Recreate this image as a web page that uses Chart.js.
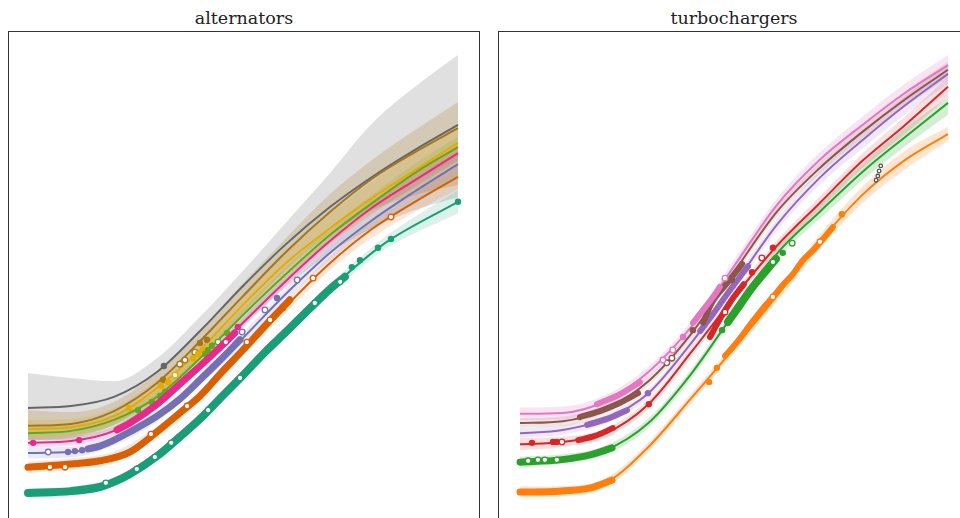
<!DOCTYPE html>
<html>
<head>
<meta charset="utf-8">
<title>alternators / turbochargers</title>
<script src="https://cdn.jsdelivr.net/npm/chart.js@4.4.1/dist/chart.umd.min.js"></script>
<style>
  html, body { margin: 0; padding: 0; background: #fff; overflow: hidden; }
  body { width: 960px; height: 518px; position: relative; }
  .frame { position: absolute; top: 31px; width: 470px; height: 540px; border: 1px solid #333; }
  .title { position: absolute; top: 8px; width: 472px; text-align: center; font-family: "DejaVu Serif", serif; font-size: 17.5px; line-height: 20px; color: #222; }
  canvas { position: absolute; left: 0; top: 0; }
</style>
</head>
<body>
<div class="title" style="left:8px">alternators</div>
<div class="frame" style="left:8px"></div>
<div class="title" style="left:498px">turbochargers</div>
<div class="frame" style="left:498px"></div>
<canvas id="altChart" width="960" height="518"></canvas>
<canvas id="turbChart" width="960" height="518"></canvas>
<script>
// shared sample positions of the fitted curves
const xSteps = [0, 10, 20, 30, 40, 50, 60, 70, 80, 90, 100];

// ---- alternators: fitted curves ----
const altGray   = [22.2, 22.6, 24.6, 30.0, 38.9, 48.7, 57.8, 65.7, 72.4, 78.3, 83.7];
const altBrown  = [18.3, 18.7, 21.5, 27.6, 36.7, 46.5, 56.1, 64.6, 72.0, 77.8, 83.0];
const altYellow = [17.6, 18.0, 20.4, 26.5, 34.8, 44.6, 53.7, 61.1, 67.8, 73.9, 79.8];
const altGreen  = [16.7, 17.2, 19.6, 24.6, 33.0, 42.4, 51.3, 59.6, 66.7, 73.3, 78.9];
const altPink   = [14.6, 15.0, 17.2, 23.3, 31.3, 40.7, 49.8, 58.3, 65.7, 71.7, 77.6];
const altPurple = [12.4, 12.6, 15.2, 20.4, 28.3, 37.4, 47.0, 55.7, 63.0, 69.3, 75.2];
const altOrange = [9.3, 10.0, 11.5, 17.0, 24.8, 34.8, 44.3, 53.5, 61.1, 67.0, 72.4];
const altTealX  = [0, 10, 20, 30, 40, 50, 60, 70, 80, 84.4, 100];
const altTeal   = [3.7, 4.1, 6.1, 11.7, 19.8, 29.3, 38.7, 47.8, 55.9, 58.9, 67.0];

// ---- alternators: intervals ----
const altGrayHi   = [29.8, 28.7, 28.0, 33.0, 42.0, 52.0, 62.5, 73.0, 84.0, 92.0, 98.9];
const altGrayLo   = [15.2, 15.2, 17.0, 22.2, 30.4, 40.0, 48.5, 55.7, 61.3, 65.2, 68.0];
const altBrownHi  = [21.7, 21.3, 23.5, 30.0, 39.1, 49.3, 59.1, 68.5, 76.1, 82.6, 88.7];
const altBrownLo  = [15.2, 15.7, 18.5, 24.3, 33.0, 42.8, 52.2, 59.8, 65.2, 68.5, 70.7];
const altYellowHi = [19.6, 19.8, 22.2, 28.3, 36.8, 47.0, 56.5, 64.3, 71.3, 77.7, 83.8];
const altYellowLo = [15.6, 16.2, 18.6, 24.7, 32.8, 42.2, 50.9, 57.9, 64.3, 70.1, 75.8];
const altGreenHi  = [17.9, 18.4, 20.8, 25.8, 34.3, 43.8, 52.8, 61.2, 68.5, 75.3, 81.2];
const altGreenLo  = [15.5, 16.0, 18.4, 23.4, 31.7, 41.0, 49.8, 58.0, 64.9, 71.3, 76.6];
const altPinkHi   = [15.6, 16.0, 18.2, 24.3, 32.3, 41.7, 50.8, 59.3, 66.9, 73.1, 79.3];
const altPinkLo   = [13.6, 14.0, 16.2, 22.3, 30.3, 39.7, 48.8, 57.3, 64.5, 70.3, 75.9];
const altPurpleHi = [13.6, 13.8, 16.4, 21.6, 29.5, 38.6, 48.3, 57.2, 64.8, 71.5, 77.8];
const altPurpleLo = [11.2, 11.4, 14.0, 19.2, 27.1, 36.2, 45.7, 54.2, 61.2, 67.1, 72.6];
const altOrangeHi = [10.5, 11.2, 12.7, 18.2, 26.0, 36.0, 45.6, 55.0, 63.0, 69.2, 75.0];
const altOrangeLo = [8.1, 8.8, 10.3, 15.8, 23.6, 33.6, 43.0, 52.0, 59.2, 64.8, 69.8];
const altTealHi   = [4.7, 5.1, 7.1, 12.7, 20.8, 30.3, 39.7, 48.9, 57.1, 60.3, 69.5];
const altTealLo   = [2.7, 3.1, 5.1, 10.7, 18.8, 28.3, 37.7, 46.7, 54.7, 57.5, 64.5];

// ---- alternators: observations (dense runs, filled, open) ----
const altTealRun = [[0, 3.7], [10, 4.1], [16.7, 5.0], [20, 6.1], [23.7, 7.8], [30, 11.7], [35.3, 15.9], [40, 19.8], [44.7, 24.3], [50, 29.3], [55.1, 34.3], [60, 38.7], [65.6, 43.9], [70.2, 48.0], [73.7, 50.7]];
const altTealDots = [[75.3, 52.8], [77.2, 54.3], [81.4, 57.0], [84.4, 58.9], [100, 67.0]];
const altTealOpen = [[18.1, 5.9], [25.3, 8.9], [29.5, 11.5], [33.3, 14.6], [41.9, 21.7], [49.3, 28.7], [66.7, 45.0], [72.6, 49.6]];
const altOrangeRun = [[0, 9.3], [10, 10.0], [16.7, 10.7], [23.7, 12.6], [30, 17.0], [35.3, 21.1], [40, 24.8], [44.7, 29.6], [50, 34.8], [55.1, 40.0], [60.9, 45.7]];
const altOrangeDots = [[59.3, 43.9]];
const altOrangeOpen = [[5.1, 9.3], [8.6, 9.3], [28.6, 16.5], [37.0, 22.6], [50.9, 36.5], [56.3, 41.3], [66.3, 50.4], [84.4, 63.7]];
const altPurpleRun = [[14.0, 13.3], [16.7, 13.9], [20, 15.2], [23.7, 17.0], [30, 20.4], [35.3, 24.1], [40, 28.3], [44.7, 32.6], [49.3, 37.0]];
const altPurpleDots = [[9.3, 12.6], [10.9, 12.8], [12.6, 13.0], [57.9, 46.1]];
const altPurpleOpen = [[4.7, 12.6], [49.8, 38.7], [55.1, 43.5], [62.6, 50.0]];
const altPinkRun = [[20.7, 17.4], [23.7, 18.9], [30, 23.0], [35.3, 27.4], [40, 31.3], [44.7, 35.4], [48.1, 38.5]];
const altPinkDots = [[1.2, 14.6], [11.9, 15.2], [48.8, 39.8]];
const altPinkOpen = [[46.0, 36.5]];
const altGreenDots = [[25.6, 21.7], [28.8, 23.5], [30.7, 24.8], [31.9, 25.7], [41.2, 33.9], [41.9, 34.8], [42.8, 35.7], [46.3, 38.5]];
const altGreenOpen = [[44.2, 36.5]];
const altYellowDots = [[23.5, 22.2], [30.9, 27.0], [32.6, 27.8], [38.4, 33.0], [39.5, 33.9], [40.7, 34.8]];
const altYellowOpen = [[34.2, 29.3]];
const altBrownDots = [[31.4, 28.3], [40.0, 36.3], [41.6, 37.0]];
const altBrownOpen = [[35.3, 31.7], [36.5, 32.6], [38.8, 34.3]];
const altGrayDots = [[31.6, 31.3]];

// ---- turbochargers: fitted curves ----
const turbPink   = [20.9, 21.1, 23.7, 30.0, 39.8, 53.0, 66.3, 76.1, 83.7, 90.7, 96.7];
const turbBrown  = [18.9, 19.3, 22.0, 28.0, 38.3, 51.7, 64.8, 74.3, 82.2, 89.3, 95.7];
const turbPurple = [16.7, 17.4, 19.8, 25.4, 36.3, 48.9, 62.0, 72.2, 80.4, 88.0, 94.8];
const turbRed    = [14.3, 14.8, 16.7, 23.0, 34.3, 46.3, 57.4, 66.7, 75.9, 83.7, 92.0];
const turbGreen  = [10.4, 11.1, 13.0, 18.9, 29.6, 42.8, 55.7, 64.8, 73.5, 81.1, 88.5];
const turbOrange = [3.9, 4.1, 5.9, 13.7, 24.3, 35.2, 46.5, 58.3, 68.5, 76.1, 81.7];

// ---- turbochargers: intervals ----
const turbPinkHi   = [22.3, 22.5, 25.0, 31.2, 41.0, 54.3, 67.7, 77.7, 85.5, 92.7, 98.9];
const turbPinkLo   = [19.5, 19.7, 22.4, 28.8, 38.6, 51.7, 64.9, 74.5, 81.9, 88.7, 94.5];
const turbBrownHi  = [19.9, 20.3, 23.0, 29.0, 39.3, 52.7, 65.9, 75.5, 83.6, 90.9, 97.5];
const turbBrownLo  = [17.9, 18.3, 21.0, 27.0, 37.3, 50.7, 63.7, 73.1, 80.8, 87.7, 93.9];
const turbPurpleHi = [17.8, 18.4, 20.8, 26.4, 37.3, 50.0, 63.3, 73.7, 82.2, 90.0, 97.0];
const turbPurpleLo = [15.6, 16.4, 18.8, 24.4, 35.3, 47.8, 60.7, 70.7, 78.6, 86.0, 92.6];
const turbRedHi    = [15.6, 15.9, 17.7, 24.0, 35.3, 47.3, 58.6, 68.1, 77.5, 85.6, 94.2];
const turbRedLo    = [13.0, 13.7, 15.7, 22.0, 33.3, 45.3, 56.2, 65.3, 74.3, 81.8, 89.8];
const turbGreenHi  = [11.6, 12.1, 14.0, 19.9, 30.6, 43.8, 56.9, 66.3, 75.3, 83.1, 89.7];
const turbGreenLo  = [9.2, 10.1, 12.0, 17.9, 28.6, 41.8, 54.5, 63.3, 71.7, 79.1, 85.9];
const turbOrangeHi = [5.1, 5.2, 6.9, 14.7, 25.3, 36.2, 47.7, 59.8, 70.3, 78.1, 83.3];
const turbOrangeLo = [2.7, 3.0, 4.9, 12.7, 23.3, 34.2, 45.3, 56.8, 66.7, 74.1, 80.2];

// ---- turbochargers: observations ----
const turbOrangeRun1 = [[0, 3.9], [9.3, 4.1], [16.4, 4.8], [21.5, 6.5]];
const turbOrangeRun2 = [[47.9, 33.5], [50.7, 36.5], [53.7, 40.2], [56.8, 43.9], [59.1, 46.3], [61.4, 48.9], [63.6, 51.1], [66.1, 54.3], [68.5, 56.5], [70.8, 58.9], [73.1, 61.5]];
const turbOrangeDots = [[44.2, 27.8], [46.0, 30.9], [75.2, 64.3]];
const turbOrangeOpen = [[59.1, 46.3], [70.1, 58.3]];
const turbGreenRun1 = [[0, 10.4], [9.3, 10.9], [16.4, 12.0], [21.5, 13.5]];
const turbGreenRun2 = [[48.6, 40.9], [51.4, 44.6], [54.2, 48.3], [57.0, 51.5], [59.8, 54.6]];
const turbGreenDots = [[47.2, 39.1], [61.4, 55.9]];
const turbGreenOpen = [[1.9, 10.7], [4.2, 10.9], [5.8, 10.9], [8.6, 10.9], [59.1, 53.9], [63.6, 58.0]];
const turbRedRun1 = [[13.6, 15.2], [17.5, 16.1], [21.7, 17.8]];
const turbRedRun2 = [[44.4, 37.6], [46.7, 41.5], [49.5, 45.7], [52.3, 49.1]];
const turbRedDots = [[2.8, 14.6], [7.7, 14.8], [8.6, 14.8], [30.1, 23.0], [54.2, 51.7], [59.1, 57.0]];
const turbRedOpen = [[9.8, 14.8], [47.9, 43.0], [56.5, 54.8]];
const turbPurpleRun1 = [[15.7, 18.5], [20.3, 19.8], [25.0, 21.7]];
const turbPurpleRun2 = [[42.1, 38.9], [45.1, 42.6], [47.9, 46.3], [51.4, 50.7], [53.3, 53.0]];
const turbPurpleDots = [[29.9, 25.4]];
const turbBrownRun1 = [[14.0, 20.2], [18.7, 21.5], [23.4, 23.3], [27.6, 25.4]];
const turbBrownRun2 = [[42.8, 40.7], [44.9, 45.2], [48.4, 49.3], [51.9, 53.5]];
const turbBrownDots = [[40.4, 39.1], [49.5, 50.0]];
const turbBrownOpen = [[34.3, 32.0], [35.5, 33.0]];
const turbPinkRun1 = [[18.0, 23.0], [23.4, 25.2], [28.0, 27.8]];
const turbPinkRun2 = [[40.4, 40.7], [42.8, 43.5], [45.1, 46.3], [46.7, 48.5]];
const turbPinkDots = [[38.1, 37.6]];
const turbPinkOpen = [[33.4, 32.6], [35.7, 34.8], [47.9, 50.4]];
const turbGrayOpen = [[83.2, 71.7], [83.6, 72.6], [83.9, 73.7], [84.3, 74.8]];

const DARK2 = { teal: '#1b9e77', orange: '#d95f02', purple: '#7570b3', pink: '#e7298a',
                green: '#66a61e', yellow: '#e6ab02', brown: '#a6761d', gray: '#666666' };
const TAB10 = { orange: '#ff7f0e', green: '#2ca02c', red: '#d62728', purple: '#9467bd',
                brown: '#8c564b', pink: '#e377c2', gray: '#555555' };

function rgba(hex, a) {
    const n = parseInt(hex.slice(1), 16);
    return 'rgba(' + (n >> 16) + ',' + ((n >> 8) & 255) + ',' + (n & 255) + ',' + a + ')';
}
const zip = (xs, ys) => xs.map((x, i) => ({ x: x, y: ys[i] }));
const pairs = arr => arr.map(p => ({ x: p[0], y: p[1] }));

function band(xs, hi, lo, color, alpha) {
    return [
        { data: zip(xs, hi), borderWidth: 0, borderColor: 'transparent', pointRadius: 0,
          fill: '+1', backgroundColor: rgba(color, alpha) },
        { data: zip(xs, lo), borderWidth: 0, borderColor: 'transparent', pointRadius: 0, fill: false }
    ];
}
function curve(xs, ys, color) {
    return { data: zip(xs, ys), borderColor: color, borderWidth: 2, pointRadius: 0, fill: false };
}
function run(arr, color, width) {
    return { data: pairs(arr), borderColor: color, borderWidth: width || 7, borderCapStyle: 'round',
             borderJoinStyle: 'round', pointRadius: 0, fill: false };
}
function dots(arr, color, r) {
    return { data: pairs(arr), showLine: false, pointRadius: r || 3.2, pointBorderWidth: 0,
             pointBackgroundColor: color, pointBorderColor: color };
}
function rings(arr, color, r) {
    return { data: pairs(arr), showLine: false, pointRadius: r || 2.8, pointBorderWidth: 1.3,
             pointBackgroundColor: '#fff', pointBorderColor: color };
}

// later datasets are drawn on top of earlier ones
function stack(sets) {
    sets.forEach((d, i) => { d.order = sets.length - i; });
    return sets;
}

function makeChart(id, datasets, padLeft, padRight) {
    return new Chart(document.getElementById(id), {
        type: 'line',
        data: { datasets: datasets },
        options: {
            responsive: false,
            animation: false,
            devicePixelRatio: 1,
            events: [],
            layout: { padding: { left: padLeft, right: padRight, top: 50, bottom: 8 } },
            elements: { line: { cubicInterpolationMode: 'monotone' } },
            datasets: { line: { clip: false } },
            plugins: { legend: { display: false }, tooltip: { enabled: false }, title: { display: false } },
            scales: {
                x: { type: 'linear', min: 0, max: 100, display: false },
                y: { type: 'linear', min: 0, max: 100, display: false }
            }
        }
    });
}

const c = DARK2;
const altSets = stack([
    ...band(xSteps, altGrayHi, altGrayLo, c.gray, 0.2),
    ...band(xSteps, altBrownHi, altBrownLo, c.brown, 0.22),
    ...band(xSteps, altYellowHi, altYellowLo, c.yellow, 0.2),
    ...band(xSteps, altGreenHi, altGreenLo, c.green, 0.15),
    ...band(xSteps, altPinkHi, altPinkLo, c.pink, 0.15),
    ...band(xSteps, altPurpleHi, altPurpleLo, c.purple, 0.15),
    ...band(xSteps, altOrangeHi, altOrangeLo, c.orange, 0.15),
    ...band(altTealX, altTealHi, altTealLo, c.teal, 0.15),
    curve(xSteps, altGray, c.gray),
    curve(xSteps, altBrown, c.brown),
    curve(xSteps, altYellow, c.yellow),
    curve(xSteps, altGreen, c.green),
    curve(xSteps, altPink, c.pink),
    curve(xSteps, altPurple, c.purple),
    curve(xSteps, altOrange, c.orange),
    curve(altTealX, altTeal, c.teal),
    dots(altGrayDots, c.gray),
    dots(altBrownDots, c.brown), rings(altBrownOpen, c.brown),
    dots(altYellowDots, c.yellow), rings(altYellowOpen, c.yellow),
    dots(altGreenDots, c.green), rings(altGreenOpen, c.green),
    run(altPinkRun, c.pink), dots(altPinkDots, c.pink), rings(altPinkOpen, c.pink),
    run(altPurpleRun, c.purple), dots(altPurpleDots, c.purple), rings(altPurpleOpen, c.purple),
    run(altOrangeRun, c.orange), dots(altOrangeDots, c.orange), rings(altOrangeOpen, c.orange),
    run(altTealRun, c.teal, 8), dots(altTealDots, c.teal), rings(altTealOpen, c.teal)
]);

const t = TAB10;
const turbSets = stack([
    ...band(xSteps, turbOrangeHi, turbOrangeLo, t.orange, 0.2),
    ...band(xSteps, turbGreenHi, turbGreenLo, t.green, 0.2),
    ...band(xSteps, turbRedHi, turbRedLo, t.red, 0.15),
    ...band(xSteps, turbPurpleHi, turbPurpleLo, t.purple, 0.15),
    ...band(xSteps, turbBrownHi, turbBrownLo, t.brown, 0.15),
    ...band(xSteps, turbPinkHi, turbPinkLo, t.pink, 0.2),
    curve(xSteps, turbOrange, t.orange),
    curve(xSteps, turbGreen, t.green),
    curve(xSteps, turbRed, t.red),
    curve(xSteps, turbPurple, t.purple),
    curve(xSteps, turbBrown, t.brown),
    curve(xSteps, turbPink, t.pink),
    run(turbOrangeRun1, t.orange), run(turbOrangeRun2, t.orange, 6),
    dots(turbOrangeDots, t.orange), rings(turbOrangeOpen, t.orange),
    run(turbGreenRun1, t.green), run(turbGreenRun2, t.green, 8),
    dots(turbGreenDots, t.green), rings(turbGreenOpen, t.green),
    run(turbRedRun1, t.red, 6), run(turbRedRun2, t.red, 6),
    dots(turbRedDots, t.red), rings(turbRedOpen, t.red),
    run(turbPurpleRun1, t.purple, 6), run(turbPurpleRun2, t.purple, 6), dots(turbPurpleDots, t.purple),
    run(turbBrownRun1, t.brown, 6), run(turbBrownRun2, t.brown, 6),
    dots(turbBrownDots, t.brown), rings(turbBrownOpen, t.brown),
    run(turbPinkRun1, t.pink, 6), run(turbPinkRun2, t.pink, 6),
    dots(turbPinkDots, t.pink), rings(turbPinkOpen, t.pink),
    rings(turbGrayOpen, t.gray, 1.8)
]);

makeChart('altChart', altSets, 28, 502);
makeChart('turbChart', turbSets, 520, 12);
</script>
</body>
</html>
